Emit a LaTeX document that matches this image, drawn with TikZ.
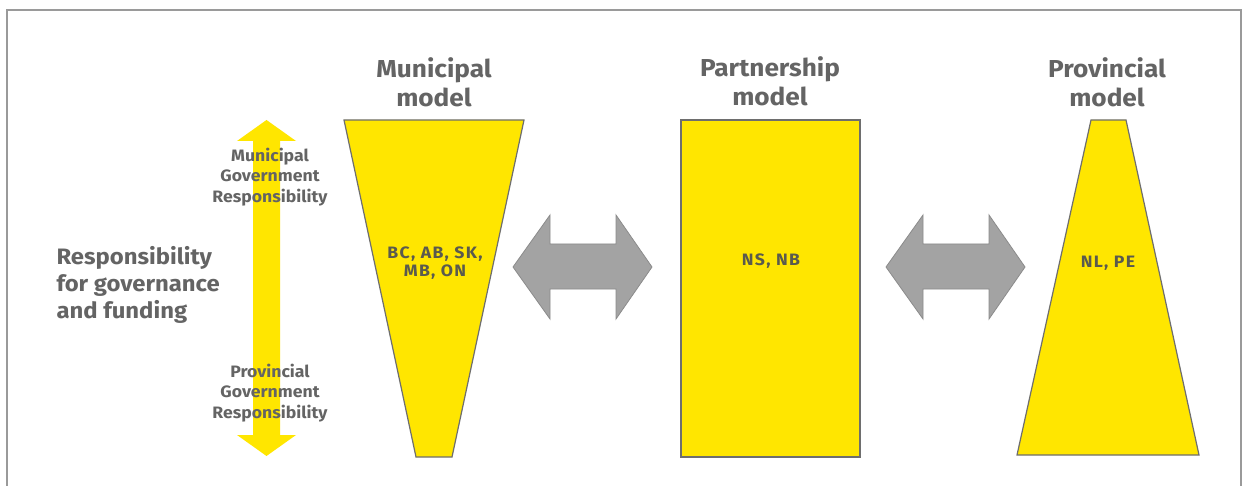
\documentclass[tikz,border=0pt]{standalone}
\usepackage{fontspec}
\setmainfont{Fira Sans}[FakeStretch=1.07]
\definecolor{eyyellow}{HTML}{FFE600}
\definecolor{txtgray}{HTML}{646464}
\definecolor{intxt}{HTML}{5A5A4E}
\definecolor{edgegray}{HTML}{6E6E6E}
\definecolor{arrowgray}{HTML}{A3A3A3}
\definecolor{framegray}{HTML}{9A9A9A}
\begin{document}
\begin{tikzpicture}[x=1pt,y=-1pt,
  model/.style={fill=eyyellow,draw=edgegray,line width=1.2pt,line join=miter},
  swap/.style={fill=arrowgray,draw=arrowgray!85!black,line width=0.8pt},
  title/.style={text=txtgray,font=\bfseries\fontsize{24.5}{29}\selectfont,align=center},
  small/.style={text=txtgray,font=\bfseries\fontsize{16.5}{20.5}\selectfont,align=center},
  inner/.style={text=intxt,font=\bfseries\fontsize{16.5}{18.5}\selectfont\addfontfeature{LetterSpace=8},align=center},
  side/.style={text=txtgray,font=\bfseries\fontsize{22.3}{27}\selectfont,align=left}]
\useasboundingbox (0,0) rectangle (1244,486);
\fill[white] (0,0) rectangle (1244,486);
% outer frame, open at the bottom
\draw[framegray,line width=1.6pt] (7,486) -- (7,10) -- (1241,10) -- (1241,486);

% vertical responsibility scale
\fill[eyyellow] (266.5,120) -- (296,141) -- (280,141) -- (280,435) -- (296,435)
  -- (266.5,456) -- (237,435) -- (253,435) -- (253,141) -- (237,141) -- cycle;
\node[small] (mun) at (270,177) {Municipal\\Government\\Responsibility};
\node[small] (prov) at (270,393) {Provincial\\Government\\Responsibility};
\node[side,anchor=west] (resp) at (53,285) {Responsibility\\for governance\\and funding};

% municipal model
\draw[model] (344,120) -- (524,120) -- (452,457) -- (416,457) -- cycle;
\node[title] (tmun) at (434,82) {Municipal\\model};
\node[inner] (lmun) at (435,263) {BC, AB, SK,\\MB, ON};

% partnership model
\draw[model] (681,120) rectangle (860,457);
\node[title] (tpart) at (770,81) {Partnership\\model};
\node[inner] (lpart) at (771,261) {NS, NB};

% provincial model
\draw[model] (1091,120) -- (1126,120) -- (1199,455) -- (1017,455) -- cycle;
\node[title] (tprov) at (1107,82) {Provincial\\model};
\node[inner] (lprov) at (1108,263.5) {NL, PE};

% two-way arrows between models
\draw[swap] (513,267) -- (550,215) -- (550,244) -- (616,244) -- (616,215) -- (652,267)
  -- (616,319) -- (616,289) -- (550,289) -- (550,319) -- cycle;
\draw[swap] (886,267) -- (923,215) -- (923,244) -- (989,244) -- (989,215) -- (1025,267)
  -- (989,319) -- (989,289) -- (923,289) -- (923,319) -- cycle;
\end{tikzpicture}
\end{document}
